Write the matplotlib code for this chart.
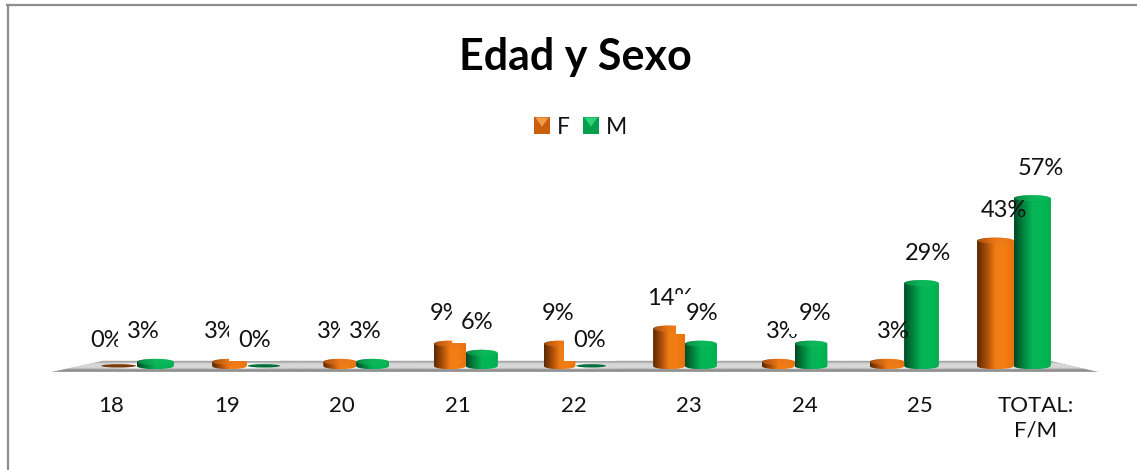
import numpy as np
import matplotlib
matplotlib.use("Agg")
import matplotlib.pyplot as plt
from matplotlib.colors import LinearSegmentedColormap
from matplotlib.legend_handler import HandlerBase
from matplotlib.lines import Line2D
from matplotlib.patches import Ellipse, PathPatch, Polygon, Rectangle
from matplotlib.path import Path

# Datos del grafico
edades = ["18", "19", "20", "21", "22", "23", "24", "25", "TOTAL:\nF/M"]
femenino = [0, 3, 3, 9, 9, 14, 3, 3, 43]
masculino = [3, 0, 3, 6, 0, 9, 9, 29, 57]

plt.rcParams["font.family"] = ["Lato", "DejaVu Sans"]

W, H = 1137, 470
fig = plt.figure(figsize=(W / 100, H / 100), dpi=100, facecolor="white")

# Base del grafico en y=368 px, unos 3 px por cada 1 %
YLIM = (-4 / 3, 65.3)
ax = fig.add_axes([52 / W, 1 - 372 / H, (1098 - 52) / W, 202 / H])
ax.set_xlim((52 - 137) / 109.6, (1098 - 137) / 109.6)
ax.set_ylim(*YLIM)
ax.patch.set_alpha(0)
for s in ax.spines.values():
    s.set_visible(False)
ax.set_yticks([])

# Las etiquetas no siguen la misma separacion que las barras (perspectiva)
ax.set_xticks([(111 + 115.6 * i - 137) / 109.6 for i in range(len(edades))])
ax.set_xticklabels(edades, fontsize=16, color="#111111", linespacing=1.3)
ax.tick_params(axis="x", length=0, pad=17)
for lab in ax.get_xticklabels():
    lab.set_verticalalignment("top")

naranja = LinearSegmentedColormap.from_list(
    "naranja", ["#5a2a05", "#a84c08", "#f07c14", "#f27e14", "#e8720f"])
verde = LinearSegmentedColormap.from_list(
    "verde", ["#004a26", "#00843e", "#07b455", "#00b855", "#05ad50"])

# Piso gris con franjas claras
y0, y1 = -4 / 3, 7 / 3
xa, xb = ax.get_xlim()
piso = Polygon([[xa, y0], [xb, y0], [(1050 - 137) / 109.6, y1], [(103 - 137) / 109.6, y1]],
               closed=True, facecolor="#aaaaaa", edgecolor="none", zorder=1)
ax.add_patch(piso)
xs = np.linspace(xa, xb, 600)
franja = 0.5 - 0.5 * np.cos(2 * np.pi * (xs - 0.5))
filas = np.array([0.62, 0.66, 0.74, 0.84, 0.84, 0.84, 0.84, 0.80, 0.62, 0.56, 0.62])
brillo = np.outer(filas, np.ones_like(xs))
brillo[3:8] += 0.16 * franja ** 3
im = ax.imshow(brillo, extent=[xa, xb, y0, y1], cmap="gray", vmin=0, vmax=1,
               aspect="auto", zorder=1.1, interpolation="bilinear")
im.set_clip_path(piso)

grad = np.linspace(0, 1, 64).reshape(1, -1)
CAP = 1.0
BASE = -0.4


def cilindro(x, ancho, h, cmap, tapa, oscuro, z):
    if h == 0:
        ax.add_patch(Ellipse((x, 0.7), ancho * 0.95, 1.1, facecolor=oscuro,
                             edgecolor="none", zorder=z))
        return
    ax.bar(x, max(h - 2 * CAP, 0), ancho, bottom=CAP, color=tapa, zorder=z)
    t = np.linspace(0, np.pi, 40)
    arriba = np.c_[x + ancho / 2 * np.cos(t), h - CAP + CAP * np.sin(t)]
    abajo = np.c_[x - ancho / 2 * np.cos(t), BASE + CAP - CAP * np.sin(t)]
    contorno = Path(np.vstack([arriba, abajo, arriba[:1]]), closed=True)
    forma = PathPatch(contorno, facecolor="none", edgecolor="none", zorder=z)
    ax.add_patch(forma)
    img = ax.imshow(grad, extent=[x - ancho / 2, x + ancho / 2, BASE, h], cmap=cmap,
                    aspect="auto", zorder=z + 0.01)
    img.set_clip_path(forma)
    ax.add_patch(Ellipse((x, h - CAP), ancho * 0.97, 2 * CAP, facecolor=tapa,
                         edgecolor="none", alpha=0.55, zorder=z + 0.02))


for i, (f, m) in enumerate(zip(femenino, masculino)):
    ancho = 0.287 + 0.003 * (i - 4) ** 2
    cilindro(i - ancho / 2, ancho, f, naranja, "#e8741a", "#7a3a0a", 3)
    cilindro(i + ancho / 2, ancho, m, verde, "#14b85c", "#00703a", 2)

    # F sin fondo; M con fondo blanco que tapa lo que tiene debajo
    dx = -12 + 2.6 * i
    ax.annotate(f"{f}%", (i - ancho / 2, f), xytext=(dx, 27), textcoords="offset pixels",
                ha="center", va="center", fontsize=17, color="#111111", zorder=4)
    ax.annotate(f"{m}%", (i + ancho / 2, m), xytext=(dx, 27), textcoords="offset pixels",
                ha="center", va="center", fontsize=17, color="#111111", zorder=5,
                bbox=dict(boxstyle="square,pad=0.4", facecolor="white", edgecolor="none"))

ax.set_xlim(xa, xb)
ax.set_ylim(*YLIM)


class HandlerPiramide(HandlerBase):
    def create_artists(self, legend, orig, x, y, w, h, fontsize, trans):
        claro, oscuro = orig.get_facecolor(), orig.get_edgecolor()
        base = Rectangle((x, y), w, h, facecolor=oscuro, edgecolor="none", transform=trans)
        tri = Polygon([[x + 1, y + h], [x + w - 1, y + h], [x + w / 2, y + h * 0.42]],
                      closed=True, facecolor=claro, edgecolor="none", transform=trans)
        return [base, tri]


h_f = Rectangle((0, 0), 1, 1, facecolor="#f59a4a", edgecolor="#c95f0c", label="F")
h_m = Rectangle((0, 0), 1, 1, facecolor="#2fd07a", edgecolor="#06a04c", label="M")
fig.legend(handles=[h_f, h_m], handler_map={Rectangle: HandlerPiramide()},
           loc="center", bbox_to_anchor=(580.5 / W, 1 - 127 / H), ncol=2, frameon=False,
           fontsize=16.5, handlelength=0.7, handleheight=0.7, handletextpad=0.3,
           columnspacing=0.57, labelcolor="#111111")

fig.text(575 / W, 1 - 57 / H, "Edad y Sexo", ha="center", va="center",
         fontsize=31, fontweight="bold", color="black")

# Marco exterior: solo lineas superior e izquierda
borde = "#8e8e8e"
fig.add_artist(Line2D([7.5 / W, 7.5 / W], [0, 1 - 4.5 / H], color=borde, lw=1.6))
fig.add_artist(Line2D([7 / W, 1], [1 - 4.5 / H, 1 - 4.5 / H], color=borde, lw=1.6))

fig.savefig("out.png", dpi=100)
